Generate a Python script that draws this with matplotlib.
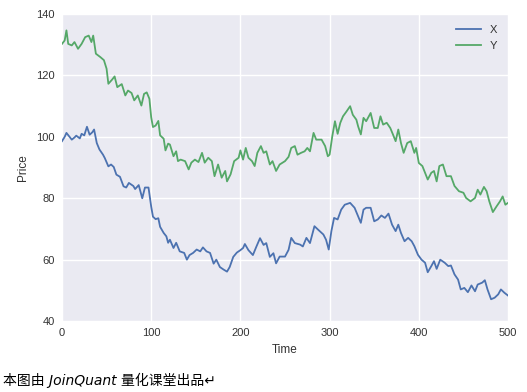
import matplotlib
matplotlib.use("Agg")
import matplotlib.pyplot as plt

# ---- data ----
time_x = [0, 3, 5, 8, 11, 14, 16, 20, 22, 25,
          28, 31, 34, 36, 39, 42, 46, 48, 52, 55,
          58, 61, 65, 69, 72, 75, 80, 82, 86, 90,
          93, 97, 100, 102, 105, 108, 110, 114, 117, 119,
          121, 125, 128, 132, 137, 140, 143, 147, 151, 155,
          158, 162, 166, 170, 173, 177, 181, 185, 188, 192,
          196, 200, 203, 205, 209, 214, 218, 222, 226, 229,
          233, 237, 240, 244, 250, 254, 257, 261, 267, 270,
          274, 278, 283, 287, 293, 296, 299, 302, 305, 309,
          313, 317, 323, 328, 332, 335, 338, 341, 346, 350,
          354, 358, 362, 366, 370, 374, 377, 380, 384, 388,
          392, 395, 399, 403, 407, 410, 414, 417, 420, 424,
          429, 433, 436, 440, 444, 447, 451, 455, 459, 463,
          466, 471, 474, 477, 481, 485, 489, 492, 496, 500]
x_values = [98.6, 100.0, 101.3, 100.2, 99.1, 99.8, 100.4, 99.5, 101.0, 100.5,
            103.3, 100.7, 101.5, 102.4, 98.0, 95.9, 94.2, 93.1, 90.4, 91.0,
            90.2, 87.7, 87.0, 83.9, 83.5, 85.0, 84.0, 83.0, 84.3, 80.0,
            83.5, 83.5, 77.3, 74.0, 73.2, 73.5, 70.7, 68.7, 67.6, 65.5,
            66.5, 63.8, 65.5, 62.7, 62.2, 60.0, 61.5, 62.2, 63.3, 62.7,
            64.0, 62.7, 62.2, 58.7, 60.0, 57.6, 56.8, 56.1, 57.6, 60.9,
            62.3, 63.1, 63.8, 65.1, 63.1, 61.5, 64.3, 67.0, 64.8, 65.4,
            60.9, 62.1, 58.8, 61.0, 61.0, 63.2, 67.1, 65.4, 64.9, 64.3,
            67.1, 65.4, 70.9, 69.8, 68.2, 66.5, 63.3, 69.3, 73.6, 73.1,
            76.3, 77.9, 78.5, 76.9, 74.1, 72.0, 76.3, 76.9, 76.9, 72.5,
            73.1, 74.4, 73.6, 75.0, 71.4, 69.3, 71.4, 68.7, 66.0, 67.1,
            66.0, 64.4, 61.6, 60.0, 59.0, 55.9, 57.9, 59.5, 57.0, 60.0,
            59.0, 57.9, 58.1, 55.2, 53.5, 50.3, 50.8, 49.4, 51.6, 49.7,
            51.9, 52.5, 53.3, 50.3, 47.1, 47.6, 48.7, 50.3, 49.2, 48.3]

time_y = [0, 3, 5, 7, 11, 14, 18, 22, 26, 30,
          33, 35, 38, 43, 47, 50, 52, 56, 59, 62,
          67, 71, 74, 78, 81, 85, 89, 92, 95, 98,
          100, 102, 105, 108, 110, 114, 116, 119, 121, 125,
          128, 130, 133, 138, 142, 145, 149, 153, 157, 160,
          164, 168, 171, 175, 179, 183, 185, 189, 193, 198,
          200, 203, 206, 209, 213, 216, 219, 223, 226, 229,
          233, 236, 240, 244, 250, 254, 257, 261, 264, 268,
          272, 275, 278, 282, 285, 291, 295, 298, 300, 303,
          306, 309, 312, 315, 319, 323, 326, 330, 332, 335,
          338, 341, 346, 350, 354, 357, 360, 364, 368, 371,
          374, 377, 380, 383, 387, 391, 395, 397, 400, 404,
          407, 410, 414, 417, 420, 423, 427, 431, 436, 440,
          445, 450, 453, 458, 463, 466, 469, 473, 476, 479,
          483, 487, 491, 494, 497, 500]
y_values = [130.3, 131.4, 134.7, 130.3, 129.8, 130.9, 128.7, 130.3, 132.5, 133.0,
            130.9, 133.0, 127.1, 126.0, 125.0, 122.2, 117.3, 118.6, 119.7, 116.2,
            117.2, 113.5, 115.1, 114.3, 111.9, 113.5, 110.2, 114.0, 114.5, 112.4,
            106.4, 103.2, 103.7, 105.2, 100.5, 99.4, 95.6, 97.8, 97.5, 93.7,
            95.3, 92.1, 92.6, 92.1, 89.4, 91.6, 92.6, 91.8, 94.8, 91.6,
            93.2, 92.1, 87.2, 91.0, 86.7, 88.9, 85.5, 87.8, 92.1, 93.2,
            95.6, 92.6, 96.4, 93.2, 92.1, 90.5, 94.8, 97.0, 94.8, 95.3,
            91.0, 92.1, 88.9, 91.0, 92.1, 93.5, 96.4, 97.0, 94.2, 94.8,
            95.3, 96.4, 95.3, 101.3, 99.1, 99.1, 97.0, 93.7, 94.2, 100.2,
            105.1, 101.0, 104.6, 106.7, 108.3, 110.0, 107.2, 105.6, 103.4, 100.8,
            106.2, 105.1, 107.8, 102.9, 102.9, 106.7, 104.0, 104.6, 102.9, 100.8,
            98.6, 102.4, 98.0, 94.8, 98.0, 98.6, 94.8, 96.4, 91.5, 90.5,
            88.3, 86.1, 88.3, 88.9, 85.5, 90.5, 91.0, 87.2, 87.2, 84.0,
            82.3, 81.8, 80.1, 79.0, 80.1, 82.8, 81.2, 83.7, 82.3, 79.0,
            75.5, 77.3, 79.0, 80.6, 77.9, 78.5]

x_ticks = [0, 100, 200, 300, 400, 500]
y_ticks = [40, 60, 80, 100, 120, 140]
series_names = ["X", "Y"]
caption = "本图由 JoinQuant 量化课堂出品\u21b5"

# ---- style ----
plt.rcParams["font.family"] = ["Liberation Sans", "DejaVu Sans"]
fig = plt.figure(figsize=(5.27, 3.92), dpi=100)
ax = fig.add_axes([0.1176, 0.181, 0.8464, 0.783])
ax.set_facecolor("#EAEAF2")
for s in ax.spines.values():
    s.set_visible(False)
ax.grid(True, color="white", linewidth=1.0)
ax.set_axisbelow(True)

ax.plot(time_x, x_values, color="#4C72B0", linewidth=1.3, label=series_names[0])
ax.plot(time_y, y_values, color="#55A868", linewidth=1.3, label=series_names[1])

ax.set_xlim(0, 500)
ax.set_ylim(40, 140)
ax.set_xticks(x_ticks)
ax.set_yticks(y_ticks)
ax.tick_params(length=0, labelsize=8, colors="#333333", pad=5)
ax.set_xlabel("Time", fontsize=8.5, color="#333333", labelpad=4)
ax.set_ylabel("Price", fontsize=8.5, color="#333333", labelpad=5)

leg = ax.legend(loc="upper right", frameon=False, fontsize=8, handlelength=2.2,
                borderaxespad=0.6)
for t in leg.get_texts():
    t.set_color("#333333")

fig.text(0.005, 0.018, caption, fontsize=10, style="italic",
         family=["DejaVu Sans", "Noto Sans CJK SC"], color="black")

fig.savefig("out.png", dpi=100)
